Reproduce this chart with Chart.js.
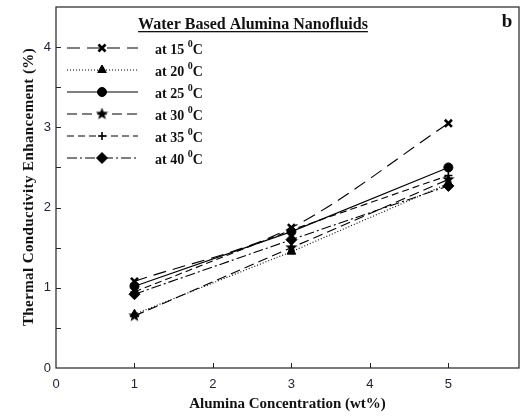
<!DOCTYPE html>
<html>
<head>
<meta charset="utf-8">
<script src="https://cdn.jsdelivr.net/npm/chart.js@4.4.1/dist/chart.umd.min.js"></script>
<style>
  html, body { margin: 0; padding: 0; background: #fff; }
  #wrap { width: 522px; height: 416px; position: relative; }
</style>
</head>
<body>
<div id="wrap"><canvas id="c" width="522" height="416"></canvas></div>
<script>
const concentration = [1, 3, 5];
const temps = ["15", "20", "25", "30", "35", "40"];
const at15 = [1.08, 1.75, 3.05];
const at20 = [0.67, 1.45, 2.30];
const at25 = [1.02, 1.70, 2.50];
const at30 = [0.65, 1.50, 2.35];
const at35 = [0.95, 1.72, 2.40];
const at40 = [0.92, 1.60, 2.27];
const xTicks = [0, 1, 2, 3, 4, 5];
const yTicks = [0, 1, 2, 3, 4];

const serif = '"Liberation Serif", "Times New Roman", serif';
const sans = '"Liberation Sans", Arial, sans-serif';

// filled five-point star used as a marker
function starImage(size) {
  const cv = document.createElement("canvas");
  cv.width = size; cv.height = size;
  const g = cv.getContext("2d");
  const c = size / 2, R = size / 2, r = R * 0.42;
  g.beginPath();
  for (let i = 0; i < 10; i++) {
    const a = -Math.PI / 2 + i * Math.PI / 5;
    const rr = i % 2 ? r : R;
    g.lineTo(c + rr * Math.cos(a), c + rr * Math.sin(a));
  }
  g.closePath();
  g.fillStyle = "#000";
  g.fill();
  return cv;
}

function pts(vals) {
  return concentration.map((x, i) => ({ x, y: vals[i] }));
}

const series = [
  { vals: at15, dash: [13, 7], style: "crossRot", radius: 5, bw: 2.6, tension: 0.35 },
  { vals: at20, dash: [1, 2], style: "triangle", radius: 5, bw: 1 },
  { vals: at25, dash: [], style: "circle", radius: 4.5, bw: 1 },
  { vals: at30, dash: [10, 5], style: starImage(13), radius: 6, bw: 1 },
  { vals: at35, dash: [7, 4], style: "cross", radius: 4, bw: 1.6 },
  { vals: at40, dash: [10, 3, 2, 3], style: "rectRot", radius: 5.5, bw: 1 },
];

const datasets = series.map((s, i) => ({
  label: "at " + temps[i],
  data: pts(s.vals),
  borderColor: "#000",
  backgroundColor: "#000",
  borderWidth: 1.1,
  borderDash: s.dash,
  pointStyle: s.style,
  pointRadius: s.radius,
  pointBorderWidth: s.bw,
  pointBackgroundColor: "#000",
  pointBorderColor: "#000",
  tension: s.tension || 0,
  cubicInterpolationMode: s.tension ? "monotone" : "default",
}));

// frame, inward ticks, axis titles, panel title and legend
const decor = {
  id: "decor",
  afterDraw(chart) {
    const ctx = chart.ctx;
    const a = chart.chartArea;
    const xs = chart.scales.x, ys = chart.scales.y;
    ctx.save();
    ctx.strokeStyle = "#222";
    ctx.lineWidth = 1.2;
    ctx.setLineDash([]);
    ctx.strokeRect(a.left, a.top, a.right - a.left, a.bottom - a.top);

    ctx.lineWidth = 1;
    ctx.beginPath();
    for (let v = 1; v <= 5; v++) {
      const px = Math.round(xs.getPixelForValue(v)) + 0.5;
      ctx.moveTo(px, a.bottom); ctx.lineTo(px, a.bottom - 5);
    }
    for (let v = 0.5; v < 4.5; v += 0.5) {
      const py = Math.round(ys.getPixelForValue(v)) + 0.5;
      ctx.moveTo(a.left, py); ctx.lineTo(a.left + 5, py);
    }
    ctx.stroke();

    ctx.fillStyle = "#111";
    ctx.font = "bold 15px " + serif;
    ctx.textAlign = "center";
    ctx.textBaseline = "middle";
    ctx.fillText("Alumina Concentration (wt%)", (a.left + a.right) / 2, 404);

    ctx.save();
    ctx.translate(29, 187);
    ctx.rotate(-Math.PI / 2);
    ctx.font = "bold 15px " + serif;
    ctx.letterSpacing = "0.4px";
    ctx.fillText("Thermal Conductivity Enhancement (%)", 0, 0);
    ctx.restore();

    // panel title with underline
    ctx.font = "bold 16px " + serif;
    const title = "Water Based Alumina Nanofluids";
    const tx = 253;
    ctx.textAlign = "center";
    ctx.textBaseline = "alphabetic";
    ctx.fillText(title, tx, 29);
    const tw = ctx.measureText(title).width;
    ctx.fillRect(tx - tw / 2, 31, tw, 1.3);

    ctx.font = "bold 19px " + serif;
    ctx.fillText("b", 507, 27);

    // legend rows
    const H = Chart.helpers;
    chart.data.datasets.forEach((ds, i) => {
      const y = 48 + i * 22;
      ctx.strokeStyle = "#000";
      ctx.lineWidth = 1.1;
      ctx.setLineDash(ds.borderDash);
      ctx.beginPath();
      ctx.moveTo(67, y); ctx.lineTo(138, y);
      ctx.stroke();
      ctx.setLineDash([]);
      ctx.fillStyle = "#000";
      ctx.lineWidth = ds.pointBorderWidth;
      H.drawPoint(ctx, {
        pointStyle: ds.pointStyle,
        radius: ds.pointRadius,
        borderWidth: ds.pointBorderWidth,
        rotation: 0,
      }, 102, y);

      ctx.fillStyle = "#111";
      ctx.textAlign = "left";
      ctx.textBaseline = "middle";
      ctx.font = "bold 14px " + serif;
      const main = ds.label + " ";
      ctx.fillText(main, 155, y + 2);
      let w = ctx.measureText(main).width;
      ctx.font = "bold 10px " + serif;
      ctx.fillText("0", 155 + w, y - 4);
      w += ctx.measureText("0").width;
      ctx.font = "bold 14px " + serif;
      ctx.fillText("C", 155 + w, y + 2);
    });
    ctx.restore();
  },
};

function noPad(s) {
  s.paddingTop = 0; s.paddingBottom = 0;
  s.paddingLeft = 0; s.paddingRight = 0;
}

new Chart(document.getElementById("c"), {
  type: "line",
  data: { datasets },
  options: {
    responsive: false,
    animation: false,
    layout: { autoPadding: false, padding: { top: 7, right: 3, left: 0, bottom: 0 } },
    plugins: { legend: { display: false }, tooltip: { enabled: false } },
    scales: {
      x: {
        type: "linear",
        min: 0,
        max: 5.9,
        grid: { display: false, drawTicks: false },
        border: { display: false },
        afterBuildTicks: (s) => { s.ticks = xTicks.map((v) => ({ value: v })); },
        afterFit: (s) => { s.height = 48; noPad(s); },
        ticks: {
          padding: 9,
          color: "#22223a",
          font: { family: sans, size: 13 },
          maxRotation: 0,
        },
      },
      y: {
        type: "linear",
        min: 0,
        max: 4.5,
        grid: { display: false, drawTicks: false },
        border: { display: false },
        afterBuildTicks: (s) => { s.ticks = yTicks.map((v) => ({ value: v })); },
        afterFit: (s) => { s.width = 56; noPad(s); },
        ticks: {
          padding: 5,
          color: "#22223a",
          font: { family: sans, size: 13 },
        },
      },
    },
  },
  plugins: [decor],
});
</script>
</body>
</html>
